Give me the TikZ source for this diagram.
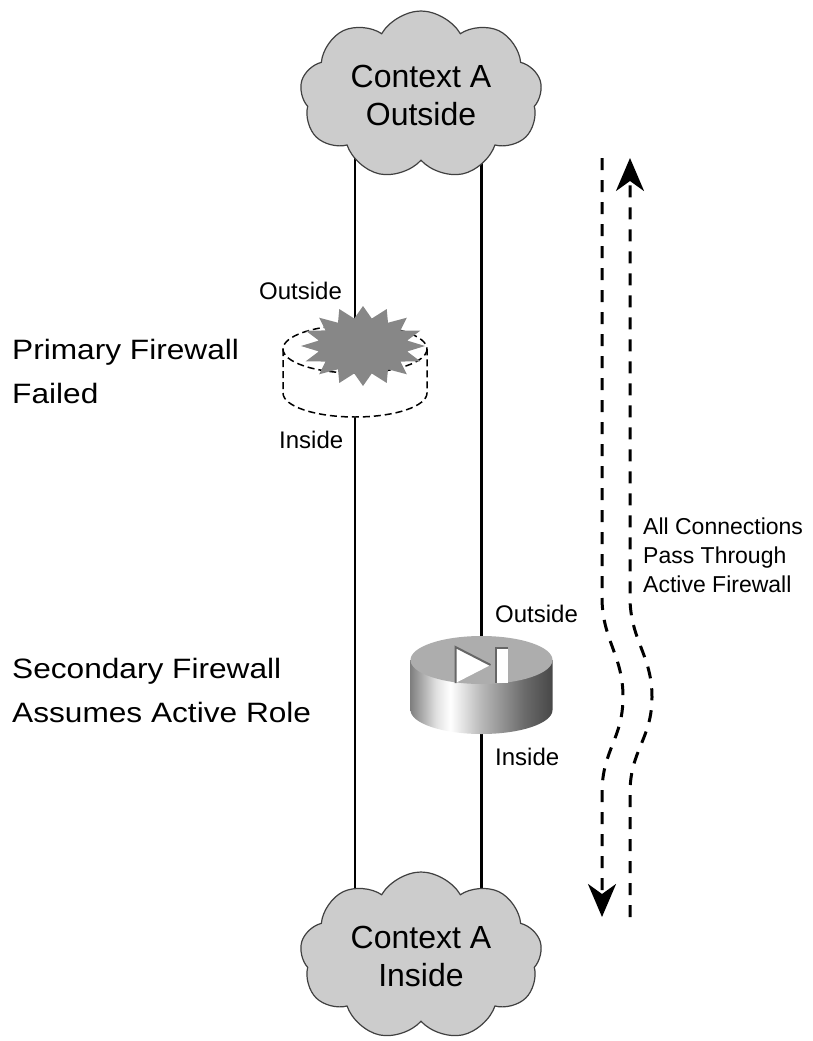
\documentclass[tikz,border=0pt]{standalone}
\usepackage{fontspec}
\setmainfont{Liberation Sans}
\newfontfamily\widefont[FakeStretch=1.13]{Liberation Sans}
\usetikzlibrary{shapes.symbols,arrows.meta,backgrounds}

% side of the active firewall, dark - bright - dark
\pgfdeclarehorizontalshading{fwside}{100bp}{color(0bp)=(black!50); color(25bp)=(black!50);
  color(34bp)=(black!12); color(39bp)=(white); color(50bp)=(black!28);
  color(65bp)=(black!58); color(75bp)=(black!72); color(100bp)=(black!72)}

\begin{document}
\begin{tikzpicture}[x=1pt,y=-1pt,
    netcloud/.style={cloud, cloud puffs=9, cloud puff arc=120, aspect=1.45,
      draw=black!75, line width=1.2pt, fill=black!20, inner sep=0pt,
      minimum width=242pt, minimum height=168pt, align=center,
      font=\fontsize{32}{38}\selectfont},
    fwspot/.style={inner sep=0pt, minimum width=144pt, minimum height=96pt},
    link/.style={line width=2.8pt},
    ghost/.style={line width=1.5pt, dash pattern=on 7pt off 4pt},
    burst/.style={fill=black!47},
    port/.style={inner sep=0pt, font=\fontsize{24}{28}\selectfont},
    note/.style={inner sep=0pt, align=left, font=\widefont\fontsize{28}{44}\selectfont},
    flownote/.style={inner sep=0pt, align=left, font=\fontsize{23}{29}\selectfont},
    flow/.style={line width=3pt, dash pattern=on 12pt off 10pt,
      -{Stealth[length=33pt,width=28pt,inset=10pt]}}]
  \useasboundingbox (0,0) rectangle (812,1041);

  \node[netcloud] (outnet) at (421,95) {Context A\\Outside};
  \node[netcloud] (innet) at (421,956) {Context A\\Inside};

  \node[fwspot] (pfw) at (355,370) {};
  \node[fwspot] (sfw) at (481.5,685.5) {};

  \begin{pgfonlayer}{background}
    \draw[link] (outnet.center -| pfw) -- (pfw.north);
    \draw[link] (pfw.south) -- (innet.center -| pfw);
    \draw[link] (outnet.center -| sfw) -- (sfw.north);
    \draw[link] (sfw.south) -- (innet.center -| sfw);
  \end{pgfonlayer}

  % failed unit: dashed outline with a burst on top
  \begin{scope}[shift={(pfw)}]
    \draw[ghost] (0,-21) ellipse [x radius=72, y radius=24];
    \draw[ghost] (-72,-21) -- (-72,23) arc[start angle=180, end angle=0, x radius=72, y radius=24] -- (72,-21);
    \fill[burst, shift={(8,-24)}] (0:62 and 40)
      \foreach \a in {0,22.5,...,337.5} { -- (\a:62 and 40) -- (\a+11.25:45 and 28) } -- cycle;
  \end{scope}

  % active unit
  \begin{scope}[shift={(sfw)}]
    \shade[shading=fwside] (-71,-25.5) -- (-71,24.5) arc[start angle=180, end angle=0, x radius=71, y radius=24] -- (71,-25.5) -- cycle;
    \fill[black!32] (0,-25.5) ellipse [x radius=71, y radius=24];
    \fill[white] (-26,-38.5) -- (-26,-2.5) -- (9,-20.5) -- cycle;
    \fill[white] (14,-37.5) rectangle (26,-2.5);
    \draw[black!60, line width=2pt] (-26,-2.5) -- (-26,-38.5) -- (9,-20.5);
    \draw[black!60, line width=2pt] (14,-2.5) -- (14,-37.5) -- (26,-37.5);
  \end{scope}

  \node[port, anchor=base west] (pfwout) at (259,299) {Outside};
  \node[port, anchor=base west] (pfwin) at (279,448) {Inside};
  \node[port, anchor=base west] (sfwout) at (495,622) {Outside};
  \node[port, anchor=base west] (sfwin) at (495,765) {Inside};

  % base of a multi-line node is its last line
  \node[note, anchor=base west] (pfwnote) at (12,403) {Primary Firewall\\Failed};
  \node[note, anchor=base west] (sfwnote) at (12,722) {Secondary Firewall\\Assumes Active Role};

  % traffic path, down and back up
  \coordinate (downstart) at (602,158);
  \coordinate (downend) at (602,917);
  \coordinate (upstart) at (630,917);
  \coordinate (upend) at (630,158);
  \draw[flow] (downstart) -- (602,597) .. controls (602,640) and (623,655) .. (623,697)
    .. controls (623,739) and (602,750) .. (602,793) -- (downend);
  \draw[flow] (upstart) -- (630,793) .. controls (630,750) and (652,739) .. (652,697)
    .. controls (652,655) and (630,640) .. (630,597) -- (upend);
  \node[flownote, anchor=base west] (flowtext) at (643,592) {All Connections\\Pass Through\\Active Firewall};
\end{tikzpicture}
\end{document}
